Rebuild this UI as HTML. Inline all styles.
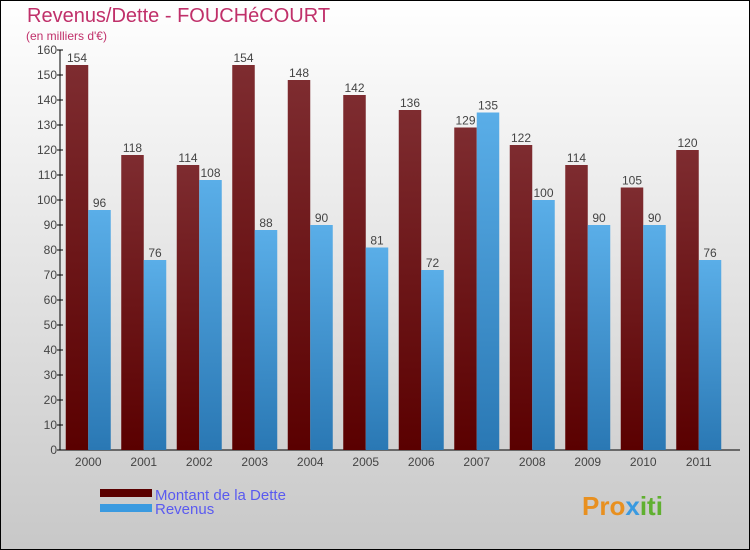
<!DOCTYPE html>
<html><head><meta charset="utf-8"><style>
body{margin:0}
#c{width:750px;height:550px;position:relative;box-sizing:border-box;border:1px solid #000;background:linear-gradient(#fff,#c8c8c8);font-family:"Liberation Sans",sans-serif;overflow:hidden}
</style></head><body>
<div id="c">
<svg id="s" width="750" height="550" style="position:absolute;left:-1px;top:-1px">
<defs>
<linearGradient id="gd" x1="0" y1="0" x2="0" y2="1"><stop offset="0" stop-color="#7e2c30"/><stop offset="1" stop-color="#5a0000"/></linearGradient>
<linearGradient id="gr" x1="0" y1="0" x2="0" y2="1"><stop offset="0" stop-color="#5aaee8"/><stop offset="1" stop-color="#2a78b4"/></linearGradient>
</defs>
<text x="27" y="22" font-size="20" fill="#c0306a">Revenus/Dette - FOUCHéCOURT</text>
<text x="26" y="40" font-size="12" fill="#c0306a">(en milliers d'€)</text>
<g id="g"></g>
<rect x="100" y="489" width="52" height="8" fill="#5a0000"/>
<rect x="100" y="504" width="52" height="8" fill="#3a9ae0"/>
<text x="155" y="500" font-size="15" fill="#5a5af0">Montant de la Dette</text>
<text x="155" y="514" font-size="15" fill="#5a5af0">Revenus</text>
<text x="582" y="515" font-size="26" font-weight="bold" fill="#e89020">Pro<tspan fill="#3a9ae0">x</tspan><tspan fill="#60b030">iti</tspan></text>
</svg>
</div>
<script>
const years=["2000","2001","2002","2003","2004","2005","2006","2007","2008","2009","2010","2011"];
const dette=[154,118,114,154,148,142,136,129,122,114,105,120];
const revenus=[96,76,108,88,90,81,72,135,100,90,90,76];
const ticks=[0,10,20,30,40,50,60,70,80,90,100,110,120,130,140,150,160];
const X0=60,Y0=450,band=55.5,bw=22.5;
const y=v=>Y0-v*2.5;
const cx=i=>X0+band*(i+0.5)+0.5;
const g=document.getElementById('g');
const NS="http://www.w3.org/2000/svg";
function mk(t,a,p){const e=document.createElementNS(NS,t);for(const k in a)e.setAttribute(k,a[k]);(p||g).appendChild(e);return e;}
let ax=mk('line',{x1:X0,y1:y(160),x2:X0,y2:Y0,stroke:'#000'});


let xa=mk('line',{x1:X0,y1:Y0,x2:740,y2:Y0,stroke:'#000'});


ticks.forEach(t=>{
 let l=mk('line',{x1:X0-3,y1:y(t),x2:X0+3,y2:y(t),stroke:'#000'});
 
 
 let tx=mk('text',{x:X0-3,y:y(t)+4,'font-size':12,fill:'#444','text-anchor':'end'});
 tx.textContent=t;
 
 
});
years.forEach((yr,i)=>{
 const c=cx(i);
 let a=mk('rect',{x:c-bw,y:y(dette[i]),width:bw,height:Y0-y(dette[i]),fill:'url(#gd)'});
 
 
 let b=mk('rect',{x:c,y:y(revenus[i]),width:bw,height:Y0-y(revenus[i]),fill:'url(#gr)'});
 
 
 let t1=mk('text',{x:c-bw/2,y:y(dette[i])-3,'font-size':12,fill:'#444','text-anchor':'middle'});
 t1.textContent=dette[i];
 
 
 let t2=mk('text',{x:c+bw/2,y:y(revenus[i])-3,'font-size':12,fill:'#444','text-anchor':'middle'});
 t2.textContent=revenus[i];
 
 
 let xl=mk('text',{x:c,y:Y0+16,'font-size':12,fill:'#444','text-anchor':'middle'});
 xl.textContent=yr;
 
 
});
</script>
</body></html>
